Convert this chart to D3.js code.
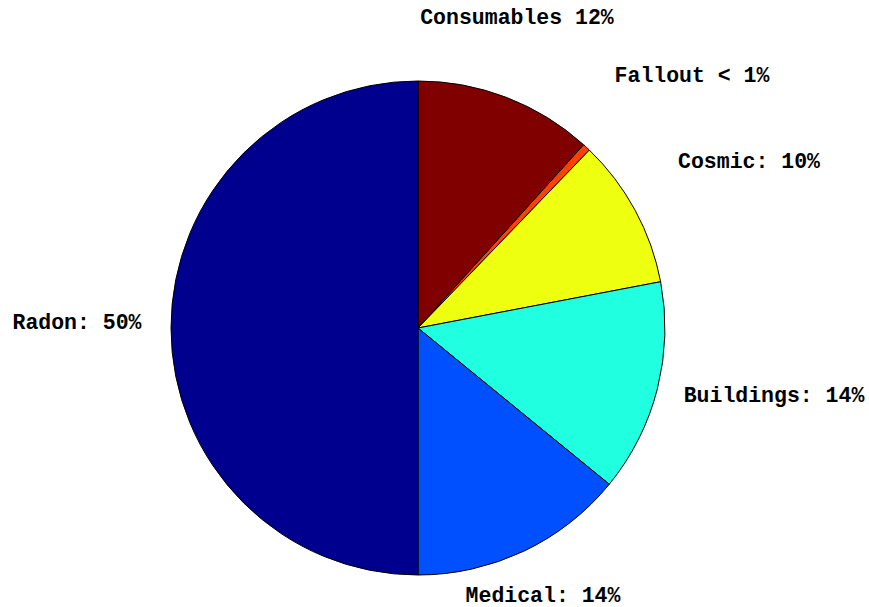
<!DOCTYPE html>
<html>
<head>
<meta charset="utf-8">
<script src="https://cdn.jsdelivr.net/npm/d3@7"></script>
<style>
  html, body { margin: 0; padding: 0; background: #fff; }
  svg { display: block; }
  .lbl { font-family: "Liberation Mono", "Courier New", monospace; font-weight: bold; font-size: 21.5px; fill: #000; }
</style>
</head>
<body>
<svg id="chart" width="869" height="607"></svg>
<script>
// Sources of annual radiation dose, clockwise from 12 o'clock (percent)
const sources = ["Consumables", "Fallout", "Cosmic", "Buildings", "Medical", "Radon"];
const shares  = [11.7, 0.5, 9.8, 13.9, 14.1, 50];
const separators = [" ", " ", ": ", ": ", ": ", ": "];
// jet colormap samples, one per slice
const colors = ["#800000", "#ff4000", "#efff10", "#20ffdf", "#0050ff", "#00008f"];

// Layout: pie centre/radius and label anchors (offsets from centre, in px)
const W = 869, H = 607;
const cx = 418, cy = 328, R = 247;
const labelOffsets = [[99, -304], [274, -246], [331, -160], [356, 74], [125, 274], [-341, 1]];

const svg = d3.select("#chart");
const g = svg.append("g").attr("transform", `translate(${cx},${cy})`);

const slices = d3.pie().sort(null).value(d => d.v).startAngle(0).endAngle(2 * Math.PI)(
  shares.map((v, i) => ({ name: sources[i], v, i }))
);
const arc = d3.arc().innerRadius(0).outerRadius(R);

g.selectAll("path.slice")
  .data(slices)
  .join("path")
  .attr("class", "slice")
  .attr("d", arc)
  .attr("fill", d => colors[d.data.i])
  .attr("stroke", "#000")
  .attr("stroke-width", 1)
  .attr("stroke-linejoin", "round");

const pctText = v => (v < 1 ? "< 1%" : Math.round(v) + "%");

g.selectAll("text.lbl")
  .data(slices)
  .join("text")
  .attr("class", "lbl")
  .attr("text-anchor", "middle")
  .attr("x", d => labelOffsets[d.data.i][0])
  .attr("y", d => labelOffsets[d.data.i][1])
  .attr("xml:space", "preserve")
  .style("white-space", "pre")
  .text(d => d.data.name + separators[d.data.i] + pctText(d.data.v));
</script>
</body>
</html>
